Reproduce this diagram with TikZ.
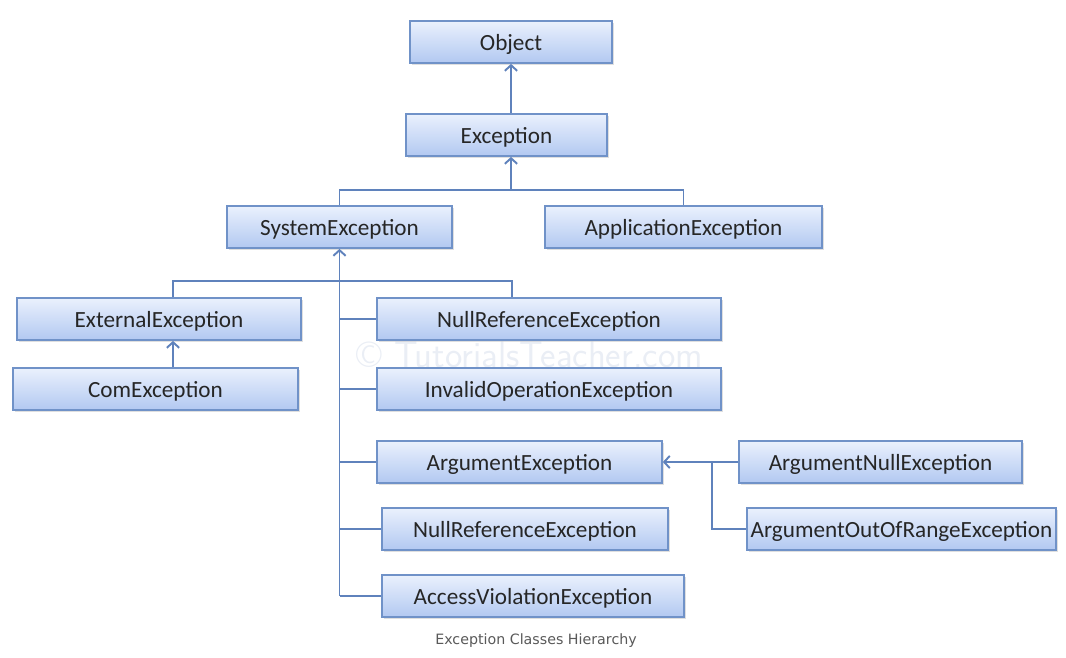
\documentclass[tikz,border=0pt]{standalone}
\usepackage{fontspec}
\setmainfont{Carlito}
\newfontfamily\capfont{DejaVu Sans}
\usetikzlibrary{arrows.meta,positioning,calc,shadows}

\definecolor{boxtop}{RGB}{234,241,253}
\definecolor{boxbot}{RGB}{178,200,241}
\definecolor{boxline}{RGB}{112,146,200}
\definecolor{wire}{RGB}{95,130,188}
\definecolor{wmark}{RGB}{234,238,245}

\begin{document}
\begin{tikzpicture}[
  x=0.02cm,y=-0.02cm,
  font=\fontsize{13.2}{15}\selectfont,
  >={Straight Barb[length=3.2pt,width=7pt]},
  cls/.style={draw=boxline,line width=1pt,top color=boxtop,bottom color=boxbot,
              minimum height=0.84cm,inner sep=2pt,text=black!85,
              text height=10.5pt,text depth=1pt,
              drop shadow={opacity=0.25,shadow xshift=1.2pt,shadow yshift=-1.2pt}},
  wireline/.style={draw=wire,line width=1.1pt},
  inherit/.style={wireline,->}
]
\useasboundingbox (0,0) rectangle (1066,657);

% ---- watermark ----
\node[font=\fontsize{21}{23}\selectfont\sffamily,text=wmark] (wm) at (530,355) {\textcopyright\ TutorialsTeacher.com};

% ---- top of the tree ----
\node[cls,minimum width=4.04cm] (obj) at (511,42) {Object};
\node[cls,minimum width=4.02cm] (exc) at (506.5,135) {Exception};
\node[cls,minimum width=4.5cm] (sys) at (339.5,227) {SystemException};
\node[cls,minimum width=5.54cm] (app) at (683.5,227) {ApplicationException};

% ---- SystemException subclasses ----
\node[cls,minimum width=5.68cm] (ext) at (159,319) {ExternalException};
\node[cls,minimum width=5.7cm] (com) at (155.5,389) {ComException};
\node[cls,minimum width=6.88cm] (nre1) at (549,319) {NullReferenceException};
\node[cls,minimum width=6.88cm] (inv) at (549,389) {InvalidOperationException};
\node[cls,minimum width=5.7cm] (arg) at (519.5,462) {ArgumentException};
\node[cls,minimum width=5.72cm] (nre2) at (525,529) {NullReferenceException};
\node[cls,minimum width=6.04cm] (acc) at (533,596) {AccessViolationException};

% ---- ArgumentException subclasses ----
\node[cls,minimum width=5.66cm] (argnull) at (880.5,462) {ArgumentNullException};
\node[cls,minimum width=6.18cm] (argoor) at (901.5,529) {ArgumentOutOfRangeException};

% ---- caption ----
\node[font=\capfont\fontsize{8.1}{10}\selectfont,text=black!65] (cap) at (536,641) {Exception Classes Hierarchy};

% ---- connections ----
\draw[inherit] (obj.south |- exc.north) -- (obj.south);

\coordinate (excbus) at (511,190);
\draw[inherit] (excbus) -- (excbus |- exc.south);
\draw[wireline] (sys.north) |- (excbus) -| (app.north);

% spine of SystemException
\draw[inherit] (sys.south |- acc.west) -- (sys.south);
\foreach \n in {nre1,inv,arg,nre2,acc}
  \draw[wireline] (\n.west -| sys.south) -- (\n.west);

\coordinate (extjoin) at (173,281);
\coordinate (nrejoin) at (512,281);
\draw[wireline] (extjoin |- ext.north) -- (extjoin) -- (nrejoin) -- (nrejoin |- nre1.north);
\draw[inherit] (extjoin |- com.north) -- (extjoin |- ext.south);

% ArgumentException
\coordinate (argjoin) at (712,462);
\draw[inherit] (argnull.west) -- (arg.east);
\draw[wireline] (argjoin) |- (argoor.west);

\end{tikzpicture}
\end{document}
